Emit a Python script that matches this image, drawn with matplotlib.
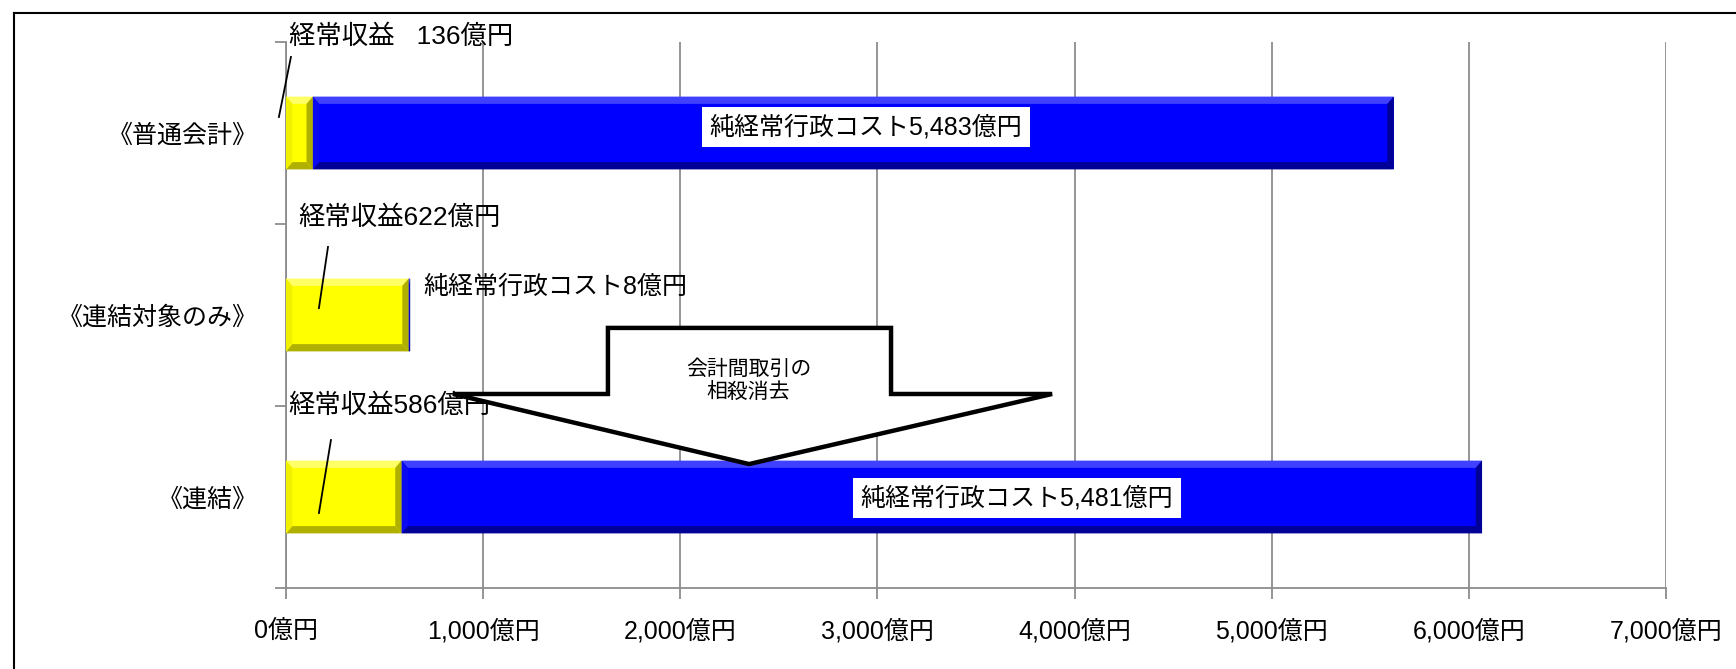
import matplotlib
matplotlib.use("Agg")
import matplotlib.pyplot as plt
from matplotlib.patches import Polygon
from matplotlib.lines import Line2D
import numpy as np

# 数字はArial系、漢字はNoto
plt.rcParams['font.family'] = ['Liberation Sans', 'Noto Sans CJK JP', 'DejaVu Sans']

# データ（億円）
categories = ['《普通会計》', '《連結対象のみ》', '《連結》']
revenue = [136, 622, 586]      # 経常収益
net_cost = [5483, 8, 5481]     # 純経常行政コスト
xticks = list(range(0, 8000, 1000))

GRAY = '#8c8c8c'
FS = 18

fig = plt.figure(figsize=(17.36, 6.69), dpi=100)
ax = fig.add_axes([286/1736, 81/669, 1380/1736, 546/669])

y = np.arange(len(categories))
b1 = ax.barh(y, revenue, height=0.4, color='#ffff00', zorder=3)
b2 = ax.barh(y, net_cost, left=revenue, height=0.4, color='#0000ff', zorder=3)


def bevel(bars, light, dark, side):
    # 3D風のふち取り
    for p in bars:
        x0, y0 = p.get_x(), p.get_y()
        w, h = p.get_width(), p.get_height()
        x1, y1 = x0 + w, y0 + h
        dx = min(32, w / 2)
        dy = 0.04
        ax.add_patch(Polygon([(x0, y0), (x1, y0), (x1 - dx, y0 + dy), (x0 + dx, y0 + dy)],
                             closed=True, fc=light, ec='none', zorder=4))
        ax.add_patch(Polygon([(x0, y1), (x1, y1), (x1 - dx, y1 - dy), (x0 + dx, y1 - dy)],
                             closed=True, fc=dark, ec='none', zorder=4))
        ax.add_patch(Polygon([(x1, y0), (x1, y1), (x1 - dx, y1 - dy), (x1 - dx, y0 + dy)],
                             closed=True, fc=dark, ec='none', zorder=4))
        ax.add_patch(Polygon([(x0, y0), (x0, y1), (x0 + dx, y1 - dy), (x0 + dx, y0 + dy)],
                             closed=True, fc=side, ec='none', zorder=4))


bevel(b1, '#ffff66', '#b0b000', '#f0f000')
bevel(b2, '#4040ff', '#000096', '#0a0af0')

ax.set_xlim(0, 7000)
ax.set_ylim(2.5, -0.5)
ax.set_xticks(xticks)
ax.set_xticklabels([f'{v:,}億円' for v in xticks], fontsize=FS)
ax.set_yticks(y)
ax.set_yticklabels(categories, fontsize=FS)
ax.set_yticks([-0.5, 0.5, 1.5, 2.5], minor=True)
ax.tick_params(axis='y', which='major', length=0, pad=20)
ax.tick_params(axis='y', which='minor', length=8, color=GRAY, width=1.3)
ax.tick_params(axis='x', length=8, color=GRAY, width=1.3, pad=14)
ax.grid(axis='x', color=GRAY, lw=1.3, zorder=0)
ax.set_axisbelow(True)
for s in ['top', 'right']:
    ax.spines[s].set_visible(False)
for s in ['left', 'bottom']:
    ax.spines[s].set_color(GRAY)
    ax.spines[s].set_linewidth(1.3)

# ラベル
ax.text(15, -0.527, '経常収益   136億円', fontsize=19, va='center', ha='left', zorder=5)
ax.plot([25, -36], [-0.418, -0.088], color='black', lw=1.3, clip_on=False, zorder=5)
ax.text(61, 0.467, '経常収益622億円', fontsize=19, va='center', ha='left', zorder=5)
ax.plot([213, 167], [0.626, 0.962], color='black', lw=1.3, zorder=5)
ax.text(10, 1.5, '経常収益586億円', fontsize=19, va='center', ha='left', zorder=5)
ax.plot([228, 167], [1.687, 2.088], color='black', lw=1.3, zorder=5)
ax.text(695, 0.846, '純経常行政コスト8億円', fontsize=FS, va='center', ha='left', zorder=5)

box = dict(boxstyle='square,pad=0.3', fc='white', ec='none')
ax.text(2942, -0.033, f'純経常行政コスト{net_cost[0]:,}億円', fontsize=FS,
        ha='center', va='center', bbox=box, zorder=6)
ax.text(3708, 2.005, f'純経常行政コスト{net_cost[2]:,}億円', fontsize=FS,
        ha='center', va='center', bbox=box, zorder=6)

# 下向き矢印
arrow = [(1633, 1.071), (3069, 1.071), (3069, 1.434), (3886, 1.434),
         (2349, 1.819), (847, 1.434), (1633, 1.434)]
ax.add_patch(Polygon(arrow, closed=True, fc='white', ec='black', lw=3.2,
                     joinstyle='miter', zorder=7))
ax.text(2346, 1.36, '会計間取引の\n相殺消去', fontsize=15, ha='center', va='center',
        linespacing=1.2, zorder=8)

# 外枠
fig.add_artist(Line2D([14/1736, 14/1736], [0, 1 - 13/669], transform=fig.transFigure,
                      color='black', lw=1.5))
fig.add_artist(Line2D([14/1736, 1], [1 - 13/669, 1 - 13/669], transform=fig.transFigure,
                      color='black', lw=1.5))

fig.savefig('out.png', dpi=100)
